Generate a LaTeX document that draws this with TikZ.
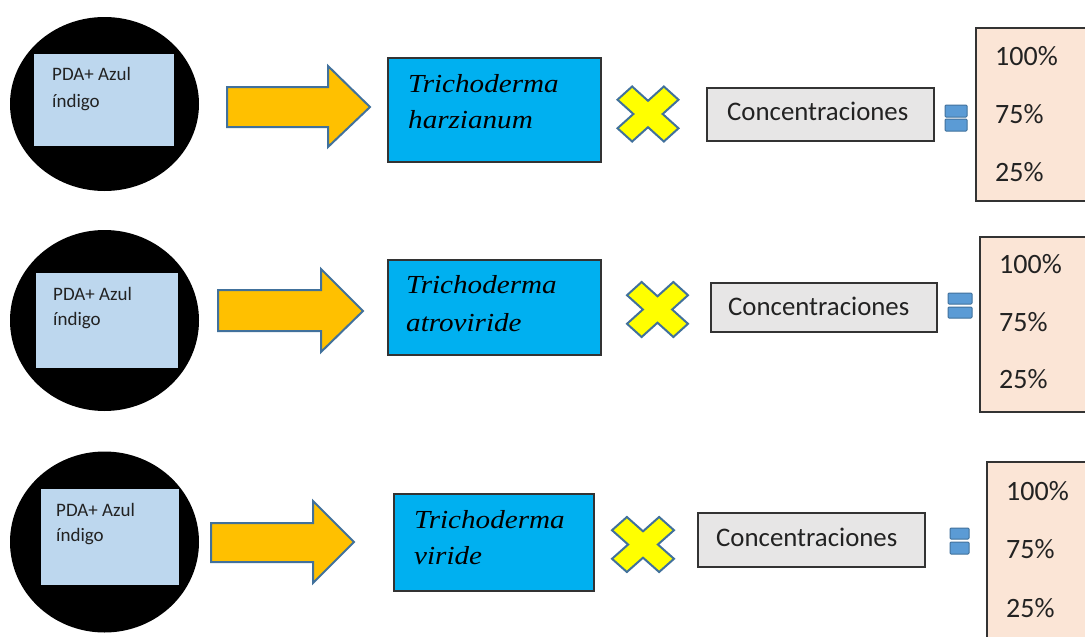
\documentclass[tikz,border=0pt]{standalone}
\usepackage{fontspec}
\setmainfont{Carlito}
\newfontfamily\speciesfont[FakeStretch=1.12]{Liberation Serif}
\usetikzlibrary{shapes.geometric}

\definecolor{mediumblue}{HTML}{BDD7EE}
\definecolor{arroworange}{HTML}{FFC000}
\definecolor{outlineblue}{HTML}{41719C}
\definecolor{speciesblue}{HTML}{00B0F0}
\definecolor{timesyellow}{HTML}{FFFF00}
\definecolor{concgray}{HTML}{E7E6E6}
\definecolor{equalblue}{HTML}{5B9BD5}
\definecolor{pctpeach}{HTML}{FBE5D6}
\definecolor{boxline}{HTML}{333333}
\definecolor{ink}{HTML}{222222}

\tikzset{
  dish/.style={ellipse, fill=black, inner sep=0pt},
  medium/.style={rectangle, fill=mediumblue, inner sep=0pt},
  flowarrow/.style={fill=arroworange, draw=outlineblue, line width=2pt, line join=miter},
  species/.style={rectangle, fill=speciesblue, draw=boxline, line width=1.3pt, inner sep=0pt},
  conc/.style={rectangle, fill=concgray, draw=boxline, line width=1.3pt, inner sep=0pt},
  pct/.style={rectangle, fill=pctpeach, draw=boxline, line width=1.3pt, inner sep=0pt},
  eqbar/.style={fill=equalblue, draw=outlineblue, line width=1pt, rounded corners=1pt},
  mediumtext/.style={anchor=base west, inner sep=0pt, text=ink, font=\fontsize{19}{23}\selectfont},
  speciestext/.style={anchor=base west, inner sep=0pt, text=black, font=\speciesfont\itshape\fontsize{26}{30}\selectfont},
  conctext/.style={anchor=base west, inner sep=0pt, text=ink, font=\fontsize{26.8}{30}\selectfont},
  pcttext/.style={anchor=base west, inner sep=0pt, text=ink, font=\fontsize{28}{32}\selectfont},
  timesmark/.pic={
    \draw[fill=timesyellow, draw=outlineblue, line width=2pt, line join=miter]
      (-1,-0.52) -- (-0.52,-1) -- (0,-0.48) -- (0.52,-1) -- (1,-0.52) -- (0.48,0)
      -- (1,0.52) -- (0.52,1) -- (0,0.48) -- (-0.52,1) -- (-1,0.52) -- (-0.48,0) -- cycle;
  }
}

\begin{document}
\begin{tikzpicture}[x=1pt, y=-1pt]
  \clip (0,0) rectangle (1085,637);
  \fill[white] (0,0) rectangle (1085,637);

  % ---------- row 1: Trichoderma harzianum ----------
  \node[dish, minimum width=189pt, minimum height=174pt] (dish1) at (104.5,104) {};
  \node[medium, minimum width=140pt, minimum height=92pt] (med1) at (104,100) {};
  \node[mediumtext] (medA1) at (52,80) {PDA+ Azul};
  \node[mediumtext] (medB1) at (52,107) {índigo};
  \draw[flowarrow] (227,87) -- (328,87) -- (328,66) -- (370,107) -- (328,147) -- (328,127) -- (227,127) -- cycle;
  \node[species, minimum width=213pt, minimum height=104pt] (sp1) at (494.5,110) {};
  \node[speciestext] (spA1) at (408,92) {Trichoderma};
  \node[speciestext] (spB1) at (408,128) {harzianum};
  \pic[xscale=30.5, yscale=27.5] (x1) at (648,114) {timesmark};
  \node[conc, minimum width=227pt, minimum height=53pt] (cc1) at (820.5,114.5) {};
  \node[conctext] (cct1) at (727,120) {Concentraciones};
  \draw[eqbar] (945,105) rectangle (967,117);
  \draw[eqbar] (945,119) rectangle (967,131);
  \node[pct, minimum width=119pt, minimum height=173pt] (pc1) at (1035.5,114.5) {};
  \node[pcttext] (pa1) at (995,65) {100\%};
  \node[pcttext] (pb1) at (995,123) {75\%};
  \node[pcttext] (pd1) at (995,181) {25\%};

  % ---------- row 2: Trichoderma atroviride ----------
  \node[dish, minimum width=189pt, minimum height=181pt] (dish2) at (104.5,320.5) {};
  \node[medium, minimum width=142pt, minimum height=95pt] (med2) at (107,320.5) {};
  \node[mediumtext] (medA2) at (53,300) {PDA+ Azul};
  \node[mediumtext] (medB2) at (53,325) {índigo};
  \draw[flowarrow] (218,290) -- (321,290) -- (321,269) -- (363,311) -- (321,352) -- (321,331) -- (218,331) -- cycle;
  \node[species, minimum width=213pt, minimum height=95pt] (sp2) at (494.5,307.5) {};
  \node[speciestext] (spA2) at (406,293) {Trichoderma};
  \node[speciestext] (spB2) at (406,331) {atroviride};
  \pic[xscale=30.5, yscale=27.5] (x2) at (657.5,309.5) {timesmark};
  \node[conc, minimum width=226pt, minimum height=49pt] (cc2) at (824,307.5) {};
  \node[conctext] (cct2) at (728,315) {Concentraciones};
  \draw[eqbar] (948,293) rectangle (972,304);
  \draw[eqbar] (948,307) rectangle (972,318);
  \node[pct, minimum width=115pt, minimum height=175pt] (pc2) at (1037.5,324.5) {};
  \node[pcttext] (pa2) at (999,273) {100\%};
  \node[pcttext] (pb2) at (999,331) {75\%};
  \node[pcttext] (pd2) at (999,388) {25\%};

  % ---------- row 3: Trichoderma viride ----------
  \node[dish, minimum width=189pt, minimum height=181pt] (dish3) at (104.5,542) {};
  \node[medium, minimum width=138pt, minimum height=96pt] (med3) at (110,537) {};
  \node[mediumtext] (medA3) at (56,516) {PDA+ Azul};
  \node[mediumtext] (medB3) at (56,541) {índigo};
  \draw[flowarrow] (211,523) -- (313,523) -- (313,501) -- (354,542) -- (313,583) -- (313,562) -- (211,562) -- cycle;
  \node[species, minimum width=200pt, minimum height=97pt] (sp3) at (494,542.5) {};
  \node[speciestext] (spA3) at (414,528) {Trichoderma};
  \node[speciestext] (spB3) at (414,564) {viride};
  \pic[xscale=31, yscale=27.5] (x3) at (643,544.5) {timesmark};
  \node[conc, minimum width=227pt, minimum height=54pt] (cc3) at (811.5,540) {};
  \node[conctext] (cct3) at (716,546) {Concentraciones};
  \draw[eqbar] (950,528) rectangle (969,539);
  \draw[eqbar] (950,542) rectangle (969,554);
  \node[pct, minimum width=108pt, minimum height=188pt] (pc3) at (1041,556) {};
  \node[pcttext] (pa3) at (1006,500) {100\%};
  \node[pcttext] (pb3) at (1006,558) {75\%};
  \node[pcttext] (pd3) at (1006,617) {25\%};
\end{tikzpicture}
\end{document}
